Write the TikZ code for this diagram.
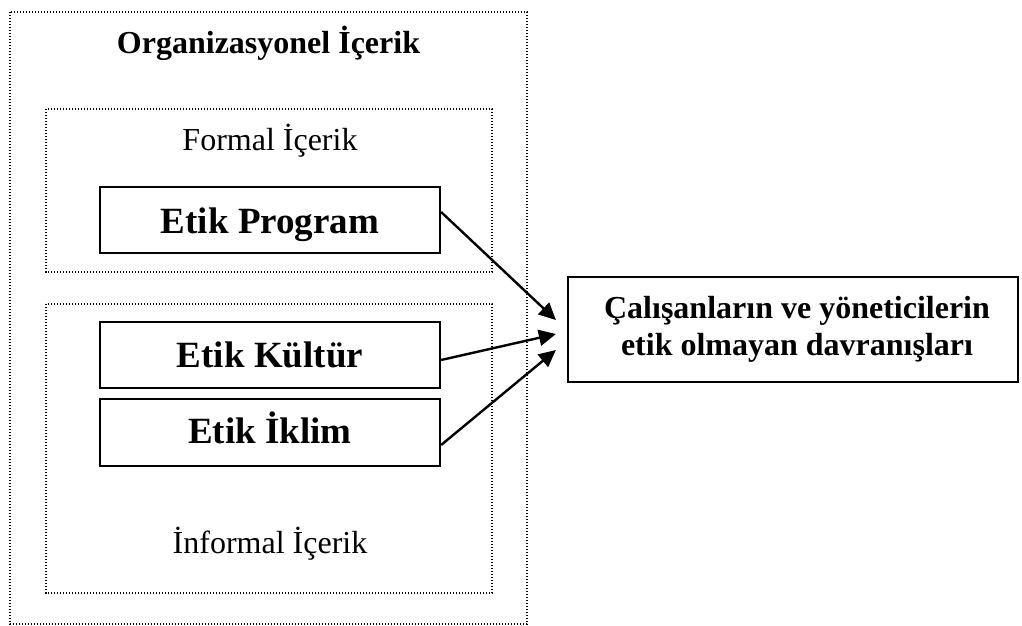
\documentclass[tikz,border=0pt]{standalone}
\usepackage{fontspec}
\setmainfont{Liberation Serif}
\usetikzlibrary{arrows.meta}
\begin{document}
\begin{tikzpicture}[x=1pt,y=-1pt,
  dotbox/.style={line width=1.5pt,dash pattern=on 1.4pt off 1.6pt},
  solidbox/.style={draw,line width=2.2pt,minimum width=340pt,inner sep=0pt,font=\bfseries\fontsize{37}{40}\selectfont},
  plain/.style={inner sep=0pt,anchor=base},
  arr/.style={line width=2.4pt,-{Triangle[length=17pt,width=16pt]}}]
\useasboundingbox (0,0) rectangle (1022,626);
% dotted containers
\draw[dotbox] (10,12) rectangle (527,624);
\draw[dotbox] (46,109) rectangle (492,272);
\draw[dotbox] (46,304) rectangle (492,593);
% container labels
\node[plain,font=\bfseries\fontsize{32}{36}\selectfont] (title) at (268.5,53) {Organizasyonel İçerik};
\node[plain,font=\fontsize{32}{36}\selectfont] (formal) at (270,150) {Formal İçerik};
\node[plain,font=\fontsize{32}{36}\selectfont] (informal) at (270,553) {İnformal İçerik};
% solid boxes
\node[solidbox,minimum height=66pt,text height=26pt,text depth=0pt] (prog) at (270,220) {Etik Program};
\node[solidbox,minimum height=66pt,text height=24pt,text depth=0pt] (kult) at (270,355) {Etik Kültür};
\node[solidbox,minimum height=67pt,text height=21pt,text depth=0pt] (iklim) at (270,432.5) {Etik İklim};
\node[draw,line width=2.2pt,minimum width=450pt,minimum height=105pt,inner sep=0pt] (res) at (793,329.5) {};
\node[plain,font=\bfseries\fontsize{32}{36}\selectfont] (resA) at (797,318) {Çalışanların ve yöneticilerin};
\node[plain,font=\bfseries\fontsize{32}{36}\selectfont] (resB) at (797,355) {etik olmayan davranışları};
% arrows
\draw[arr] ([yshift=8pt]prog.east) -- ([xshift=-11pt,yshift=9.5pt]res.west);
\draw[arr] ([yshift=-5pt]kult.east) -- ([xshift=-11pt,yshift=-4.5pt]res.west);
\draw[arr] ([yshift=-12.5pt]iklim.east) -- ([xshift=-11pt,yshift=-20.5pt]res.west);
\end{tikzpicture}
\end{document}
